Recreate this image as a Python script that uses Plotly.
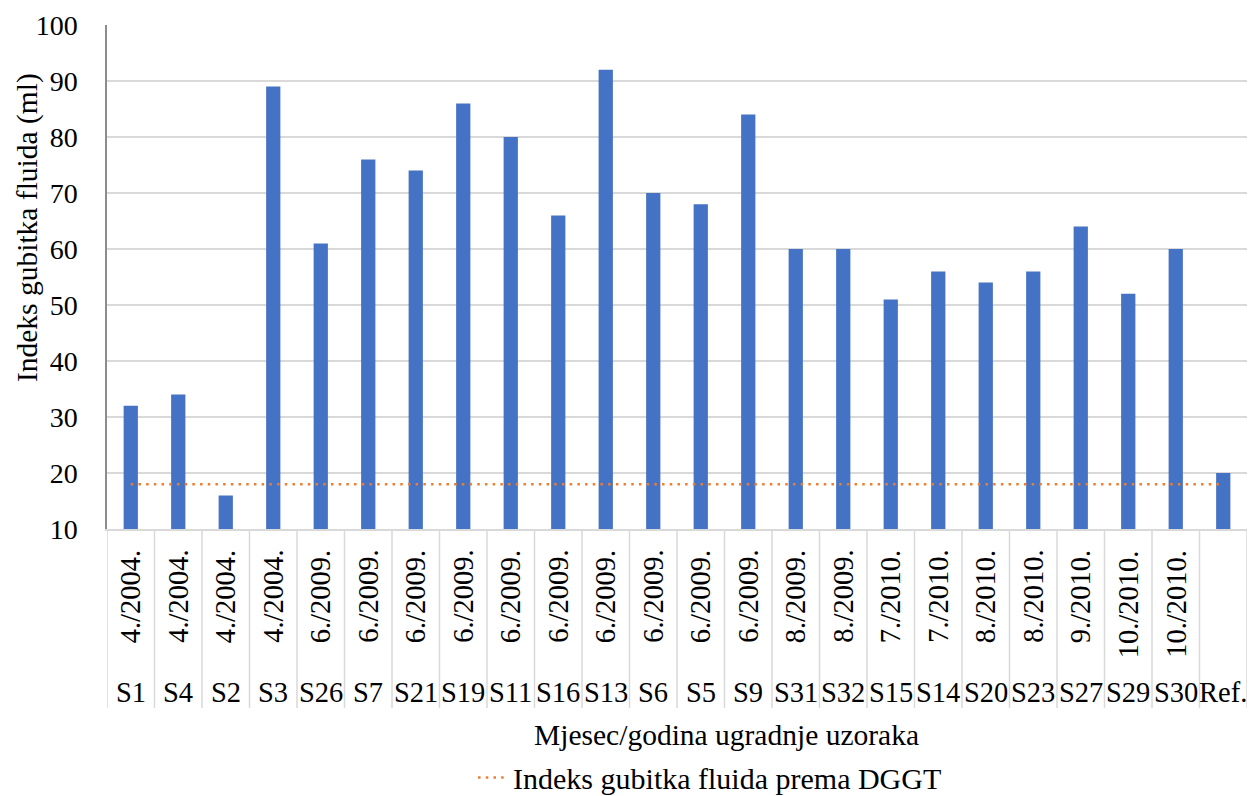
import plotly.graph_objects as go

samples = ["S1", "S4", "S2", "S3", "S26", "S7", "S21", "S19", "S11", "S16", "S13", "S6",
           "S5", "S9", "S31", "S32", "S15", "S14", "S20", "S23", "S27", "S29", "S30", "Ref."]
dates = ["4./2004.", "4./2004.", "4./2004.", "4./2004.",
         "6./2009.", "6./2009.", "6./2009.", "6./2009.", "6./2009.", "6./2009.", "6./2009.",
         "6./2009.", "6./2009.", "6./2009.",
         "8./2009.", "8./2009.", "7./2010.", "7./2010.", "8./2010.", "8./2010.", "9./2010.",
         "10./2010.", "10./2010.", ""]
values = [32, 34, 16, 89, 61, 76, 74, 86, 80, 66, 92, 70, 68, 84, 60, 60, 51, 56, 54, 56, 64, 52, 60, 20]
dggt_limit = [18] * len(samples)

FONT = '"Liberation Serif", "Times New Roman", Times, serif'

fig = go.Figure()
fig.add_trace(go.Bar(x=samples, y=values, marker=dict(color="#4472C4", line=dict(width=0)),
                     showlegend=False, name="Indeks"))
fig.add_trace(go.Scatter(x=samples, y=dggt_limit, mode="lines",
                         line=dict(color="#ED7D31", width=2.5, dash="2.5px,5.2px"),
                         name="Indeks gubitka fluida prema DGGT", showlegend=True))

annotations = []
for s, d in zip(samples, dates):
    if d:
        annotations.append(dict(x=s, y=-0.0377, xref="x", yref="paper", text=d, textangle=-90,
                                showarrow=False, yanchor="top", xanchor="center",
                                font=dict(family=FONT, size=28.5, color="black")))
    annotations.append(dict(x=s, y=-0.325, xref="x", yref="paper", text=s, showarrow=False,
                            yanchor="middle", xanchor="center",
                            font=dict(family=FONT, size=28.5, color="black")))

annotations.append(dict(x=0.543, y=-0.408, xref="paper", yref="paper",
                        text="Mjesec/godina ugradnje uzoraka", showarrow=False,
                        xanchor="center", yanchor="middle",
                        font=dict(family=FONT, size=29.5, color="black")))
annotations.append(dict(x=-0.0702, y=0.599, xref="paper", yref="paper",
                        text="Indeks gubitka fluida (ml)", showarrow=False, textangle=-90,
                        xanchor="center", yanchor="middle",
                        font=dict(family=FONT, size=29.5, color="black")))

shapes = []
for i in range(len(samples) + 1):
    shapes.append(dict(type="line", xref="x", yref="paper", x0=i - 0.5, x1=i - 0.5,
                       y0=0, y1=-0.355, line=dict(color="#D9D9D9", width=1.5)))

fig.update_layout(
    width=1250, height=796,
    margin=dict(l=107, r=3, t=25, b=267, autoexpand=False),
    paper_bgcolor="white", plot_bgcolor="white",
    bargap=0.7,
    font=dict(family=FONT, size=28, color="black"),
    annotations=annotations,
    shapes=shapes,
    legend=dict(orientation="h", x=0.529, y=-0.493, xanchor="center", yanchor="middle",
                font=dict(family=FONT, size=30, color="black"), bgcolor="rgba(0,0,0,0)"),
    xaxis=dict(type="category", range=[-0.5, len(samples) - 0.5], showticklabels=False,
               showgrid=False, showline=True, linecolor="#D9D9D9", linewidth=1.5,
               ticks="", zeroline=False),
    yaxis=dict(range=[10, 100], dtick=10, showgrid=True, gridcolor="#D9D9D9", gridwidth=1.5,
               showline=True, linecolor="#8C8C8C", linewidth=1.5, ticks="",
               ticklabelstandoff=22, zeroline=False,
               tickfont=dict(family=FONT, size=28, color="black")),
)

fig.write_html("out.html", config={"displayModeBar": False},
               post_script="document.body.style.margin='0';document.body.style.overflow='hidden';")
